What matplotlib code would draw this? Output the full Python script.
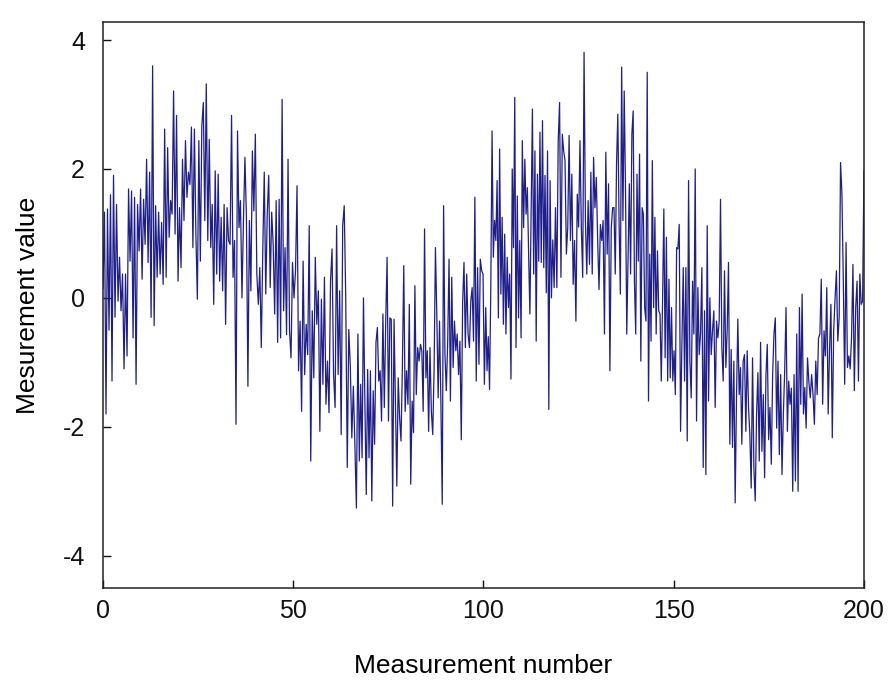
import matplotlib
matplotlib.use("Agg")
import matplotlib.pyplot as plt
import numpy as np

# values, strip by strip (left to right)
s1 = [0.15, 1.33, -1.8, 1.38, -0.5, 1.6, -1.29, 1.9, -0.3, 1.45, -0.05, 0.63, -0.2, 0.37,
      -1.1, 0.37, -0.9, 1.69, 0.57, 1.66, -0.62, 1.56, -1.34, 1.45, 0.73, 1.69, 0.29, 1.53,
      0.83, 2.15, 0.55, 1.95, -0.3, 3.6, -0.43, 1.43, 0.32, 1.33, 0.37, 1.17, 0.21, 2.62]
s2 = [0.32, 2.33, 0.94, 1.51, 1.3, 3.21, 0.99, 2.83, 0.26, 1.4, 0.47, 2.15, 1.2, 2.44, 1.56,
      1.95, 1.76, 2.65, 0.78, 2.62, 0.99, -0.02, 2.44, 0.57, 2.67, 3.03, 1.2, 3.32, 0.89, 2.46,
      0.78, 1.45, -0.1, 1.97, 0.37, 1.92, 0.26, 1.25, 0.11, 1.45, -0.41, 1.4, 0.89]
s3 = [0.83, 2.83, 0.32, 0.89, -1.96, 2.59, 1.09, 1.51, 0.0, 1.2, 2.18, 1.25, -1.37, 1.2, 0.11,
      2.28, 1.35, 2.54, 0.37, -0.1, 0.47, -0.77, 0.73, 1.95, 0.06, 1.3, 1.9, 0.16, 1.33, 0.83,
      -0.25, 1.51, -0.69, 1.53, -0.62, 3.08, -0.2, 0.78, -0.57, 2.15, -0.51, -0.93, 0.55]
s4 = [0.0, 0.42, 1.74, -1.13, -0.36, -1.76, 0.57, -1.19, -0.41, -0.88, 1.12, -2.53, -0.2,
      -1.24, 0.63, -0.41, 0.11, -2.07, -0.02, -1.34, 0.32, -1.65, -0.98, -1.78, 0.26, 0.76,
      -1.19, -1.7, 1.12, -1.19, 0.11, -2.12, 1.12, 1.43, 0.0, -2.63, -0.49, -1.06, -2.17,
      -1.37, -2.27, -3.26]
s5 = [-0.56, -2.53, -1.34, -2.48, 0.0, -1.6, -3.05, -1.11, -2.48, -1.13, -3.15, -1.44, -2.27,
      -0.69, -0.46, -1.29, -1.13, -1.91, -0.25, -1.7, -0.38, 0.63, -1.91, -0.31, -0.33, -3.23,
      -0.33, -1.65, -2.92, -1.24, -1.86, -2.22, -1.06, 0.5, -1.76, -1.13, -1.65, -0.1, -2.89,
      -1.6, -2.09, 0.19, -1.5, -0.77, -0.98, -0.72]
s6 = [-0.82, -1.76, 1.07, -1.24, -0.82, -2.07, -0.77, -1.76, -2.12, -1.13, 0.78, -0.25, -1.55,
      -0.36, -1.6, -3.2, 1.43, -0.88, -1.44, -0.69, 0.6, -1.6, 0.32, -1.08, -0.36, -0.82, -0.56,
      -1.19, -0.67, -2.2, -0.07, 0.55, -0.77, 0.37, -0.56, -0.77, -0.05, 0.16, -0.67, 1.56,
      -1.29, 0.47, -1.03, 0.6, 0.42, 0.37, -1.34]
s7 = [-0.15, -1.13, -0.6, -1.42, 0.16, 2.59, 0.63, 1.2, 0.89, 1.82, -0.31, 2.31, 0.06, 1.25,
      -0.41, 0.99, -0.56, 0.63, -0.15, 0.37, -1.26, 2.0, 0.78, 3.11, -0.77, 1.58, -0.31, 0.89,
      -0.62, 2.44, 1.09, 2.15, 1.3, 1.71, 0.68, -0.25, 1.4, 2.93, 0.37, 2.28, -0.67, 1.92, 0.57,
      2.57, 0.55, 2.75, 0.47, 1.9, 0.08, 2.28, -1.73]
s8 = [1.82, 0.0, 0.9, 0.16, 1.4, 0.16, 2.44, 3.03, 0.32, 2.54, 2.28, 2.13, 0.68, 1.09, 2.52,
      0.89, 1.92, 0.21, 0.89, -0.36, 1.61, 1.1, 2.44, 1.09, 0.32, 3.81, 1.2, 0.37, 1.51, 0.52,
      1.95, 0.37, 2.18, 1.4, 1.87, 0.89, 0.13, 1.14, 0.89, 1.2, -0.56, 2.26, 0.68, 1.77, -1.13,
      1.09, 1.4]
s9 = [1.4, 0.37, 2.08, 2.85, 1.14, 0.06, 3.58, 1.2, 3.21, 1.71, -0.56, 0.6, 1.77, 0.37, 2.54,
      2.9, 0.26, -0.56, 1.92, 0.57, 2.23, -0.98, 1.4, 1.3, -0.15, -0.36, 3.5, -1.6, 0.68, -0.67,
      2.13, -0.15, 1.25, -0.56, 0.73, -0.2, -0.25, -1.29, -0.05, 1.38, -0.93, 0.94, -1.29, 0.29,
      -1.24, -0.15, -1.29, -0.82, -1.5, 0.78]
s10 = [0.76, 1.14, -2.07, -0.7, 0.47, -1.29, 0.47, -2.22, 1.82, -0.98, -1.55, 0.26, -0.56, 2.0,
       -1.91, 0.16, -0.88, -0.55, 0.47, -2.63, -0.2, -2.74, 1.12, -1.6, 0.0, -0.88, -0.5, -0.2,
       -1.7, -0.36, -0.62, -0.36, 1.53, -0.77, -1.29, 0.42, -1.08, -0.5, 0.55, -2.27, -0.8,
       -2.32, -0.98, -3.18, -1.55, -0.33, -1.5, -1.08]
s11 = [-2.27, -0.98, -0.88, -2.07, -0.82, -1.7, -2.12, -2.95, -0.93, -2.63, -3.15, -1.8, -1.16,
       -2.53, -0.69, -2.38, -1.5, -2.79, -1.2, -0.72, -2.2, -1.7, -2.58, -1.19, -0.56, -0.31,
       -2.02, -0.98, -2.43, -1.19, -2.74, -1.8, -1.13, -0.15, -2.07, -1.29, -1.65, -1.4, -3.0,
       -1.19, -2.84, -0.56, -3.0, -0.15, -1.65, 0.06, -1.8, -1.39]
s12 = [-2.02, -0.93, -1.3, -1.55, -1.19, -1.5, -1.96, -0.98, -1.5, -0.62, -0.56, 0.29, -1.65,
       -0.51, -0.9, 0.16, -1.8, -0.8, -0.1, -2.17, -0.51, -0.02, 0.42, -0.67, -0.3, 2.1, 1.61,
       0.26, -1.34, 0.86, -1.08, -0.9, -1.1, -0.6, 0.52, -1.44, -0.15, 0.26, -1.29, 0.37, -0.1,
       -0.05, 1.97]

strips = [s1, s2, s3, s4, s5, s6, s7, s8, s9, s10, s11, s12]
# measurement number where each strip starts/ends
edges = [0, 16.6, 33.4, 50.2, 67.0, 83.8, 100.6, 117.5, 134.3, 151.1, 167.9, 184.8, 200]

xs, ys = [], []
for i, s in enumerate(strips):
    last = i == len(strips) - 1
    xs.extend(np.linspace(edges[i], edges[i + 1], len(s), endpoint=last))
    ys.extend(s)

plt.rcParams["font.family"] = ["Liberation Sans", "DejaVu Sans"]
plt.rcParams["axes.unicode_minus"] = False

fig = plt.figure(figsize=(8.94, 6.85), dpi=100)
ax = fig.add_axes([0.1152, 0.1416, 0.8512, 0.8263])
ax.plot(xs, ys, color="#1e1e8c", linewidth=0.9)

ax.set_xlim(0, 200)
ax.set_ylim(-4.5, 4.28)
ax.set_xticks([0, 50, 100, 150, 200])
ax.set_yticks([-4, -2, 0, 2, 4])
ax.tick_params(direction="in", length=6, width=1, labelsize=18, colors="#111111")
ax.tick_params(axis="x", pad=8)
ax.tick_params(axis="y", pad=13)
for sp in ax.spines.values():
    sp.set_linewidth(1.1)
    sp.set_color("#222222")

ax.set_xlabel("Measurement number", fontsize=19, labelpad=22)
ax.set_ylabel("Mesurement value", fontsize=19, labelpad=16)

fig.savefig("out.png", dpi=100)
